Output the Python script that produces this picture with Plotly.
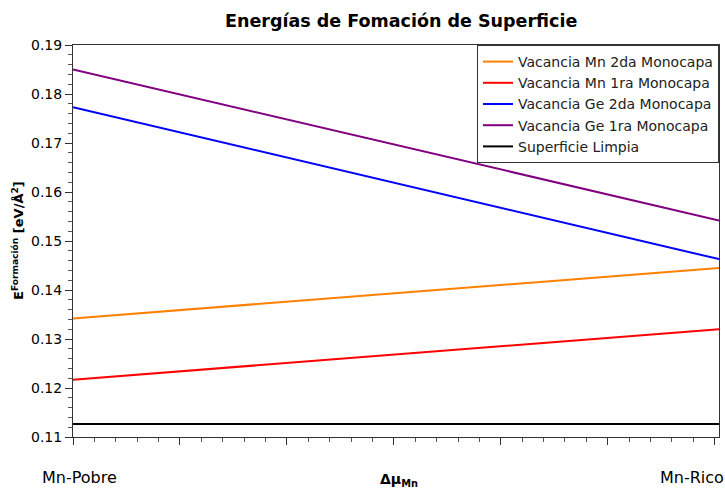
import plotly.graph_objects as go

# Chemical potential span (arbitrary units, only the end labels are shown)
mu = [0.0, 6.04]

series_names = [
    "Vacancia Mn 2da Monocapa",
    "Vacancia Mn 1ra Monocapa",
    "Vacancia Ge 2da Monocapa",
    "Vacancia Ge 1ra Monocapa",
    "Superficie Limpia",
]
series_colors = ["#ff8000", "#ff0000", "#0000ff", "#800080", "#000000"]

# Surface formation energies (eV/Å²) at Mn-poor and Mn-rich limits
e_mn_2da = [0.1342, 0.1445]
e_mn_1ra = [0.1217, 0.1320]
e_ge_2da = [0.1773, 0.1463]
e_ge_1ra = [0.1850, 0.1542]
e_limpia = [0.11265, 0.11265]

series_values = [e_mn_2da, e_mn_1ra, e_ge_2da, e_ge_1ra, e_limpia]

fig = go.Figure()
for name, color, vals in zip(series_names, series_colors, series_values):
    fig.add_trace(go.Scatter(
        x=mu, y=vals, mode="lines", name=name,
        line=dict(color=color, width=2),
    ))

font_family = "DejaVu Sans"

fig.update_layout(
    width=725, height=489,
    margin=dict(l=73, r=6, t=45, b=52),
    paper_bgcolor="white", plot_bgcolor="white",
    font=dict(family=font_family, size=13, color="black"),
    showlegend=True,
    legend=dict(
        x=1, xanchor="right", y=1, yanchor="top",
        bgcolor="white", bordercolor="#333333", borderwidth=1,
        font=dict(size=14, color="#222222"),
        tracegroupgap=0, itemwidth=30,
    ),
    xaxis=dict(
        range=[0, 6.04], dtick=1, showticklabels=False,
        ticks="outside", ticklen=7, tickcolor="#333333",
        minor=dict(dtick=0.2, ticks="outside", ticklen=4, tickcolor="#555555"),
        showgrid=False, zeroline=False,
        showline=True, linecolor="#333333", linewidth=1, mirror=True,
    ),
    yaxis=dict(
        range=[0.11, 0.19], dtick=0.01, tickformat=".2f",
        ticks="outside", ticklen=7, tickcolor="#333333",
        minor=dict(dtick=0.002, ticks="outside", ticklen=4, tickcolor="#555555"),
        showgrid=False, zeroline=False,
        showline=True, linecolor="#333333", linewidth=1, mirror=True,
        tickfont=dict(size=14),
    ),
    annotations=[
        dict(text="<b>Energías de Fomación de Superficie</b>",
             xref="paper", yref="paper", x=0.5, xshift=5, y=1, yshift=24,
             xanchor="center", yanchor="middle", showarrow=False,
             font=dict(size=17.5)),
        dict(text="<b>E<sup>Formación</sup> [eV/Å<sup>2</sup>]</b>",
             xref="paper", yref="paper", x=0, xshift=-55, y=0.5,
             xanchor="center", yanchor="middle", showarrow=False,
             textangle=-90, font=dict(size=13)),
        dict(text="Mn-Pobre", xref="paper", yref="paper", x=0, xshift=6, y=0,
             yshift=-40, xanchor="center", yanchor="middle", showarrow=False,
             font=dict(size=16)),
        dict(text="Mn-Rico", xref="paper", yref="paper", x=1, xshift=-27, y=0,
             yshift=-40, xanchor="center", yanchor="middle", showarrow=False,
             font=dict(size=16)),
        dict(text="<b>Δμ<sub>Mn</sub></b>", xref="paper", yref="paper", x=0.5,
             xshift=3, y=0, yshift=-43, xanchor="center", yanchor="middle",
             showarrow=False, font=dict(size=14)),
    ],
)

fig.write_html("out.html")
